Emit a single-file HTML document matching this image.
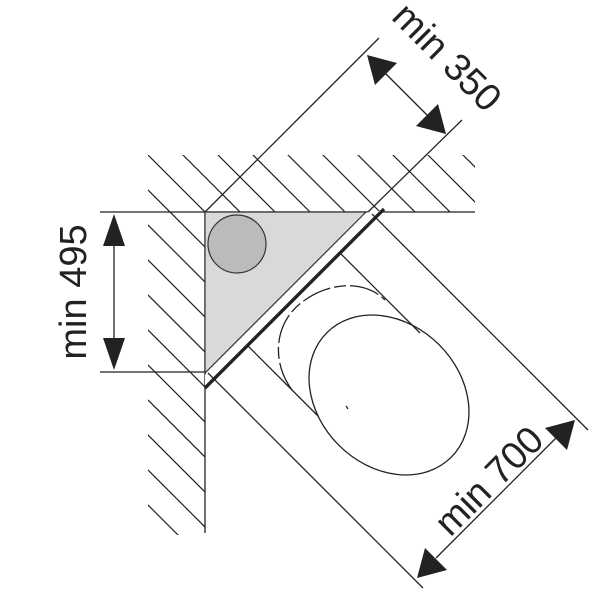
<!DOCTYPE html>
<html><head><style>html,body{margin:0;padding:0;background:#fff}svg{display:block}</style></head>
<body>
<svg width="600" height="600" viewBox="0 0 600 600" xmlns="http://www.w3.org/2000/svg">
<defs>
<clipPath id="hc"><path d="M148 155H475V212H205V535H148Z"/></clipPath>
</defs>
<g clip-path="url(#hc)" stroke="#222" stroke-width="1.2">
<line x1="-292" y1="100" x2="208" y2="600"/>
<line x1="-257" y1="100" x2="243" y2="600"/>
<line x1="-222" y1="100" x2="278" y2="600"/>
<line x1="-187" y1="100" x2="313" y2="600"/>
<line x1="-152" y1="100" x2="348" y2="600"/>
<line x1="-117" y1="100" x2="383" y2="600"/>
<line x1="-82" y1="100" x2="418" y2="600"/>
<line x1="-47" y1="100" x2="453" y2="600"/>
<line x1="-12" y1="100" x2="488" y2="600"/>
<line x1="23" y1="100" x2="523" y2="600"/>
<line x1="58" y1="100" x2="558" y2="600"/>
<line x1="93" y1="100" x2="593" y2="600"/>
<line x1="128" y1="100" x2="628" y2="600"/>
<line x1="163" y1="100" x2="663" y2="600"/>
<line x1="198" y1="100" x2="698" y2="600"/>
<line x1="233" y1="100" x2="733" y2="600"/>
<line x1="268" y1="100" x2="768" y2="600"/>
<line x1="303" y1="100" x2="803" y2="600"/>
<line x1="338" y1="100" x2="838" y2="600"/>
<line x1="373" y1="100" x2="873" y2="600"/>
<line x1="408" y1="100" x2="908" y2="600"/>
</g>
<g stroke="#222" fill="none" stroke-width="1.3">
<line x1="100" y1="212" x2="475" y2="212"/>
<line x1="100" y1="372" x2="205" y2="372"/>
<line x1="205" y1="212" x2="205" y2="533"/>
</g>
<polygon points="205,212 366,212 205,373" fill="#d9d9d9" stroke="#333" stroke-width="1.2"/>
<polygon points="369,211 380,211 205,386 205,375" fill="#fff"/>
<circle cx="237" cy="244" r="29" fill="#bbbbbb" stroke="#333" stroke-width="1.2"/>
<line x1="384" y1="209" x2="205" y2="388" stroke="#222" stroke-width="3.4"/>
<g stroke="#222" fill="none" stroke-width="1.3">
<line x1="372" y1="214" x2="588" y2="430"/>
<line x1="208" y1="373" x2="423" y2="588"/>
<line x1="340" y1="253" x2="420" y2="333"/>
<line x1="248" y1="346" x2="318" y2="416"/>
<ellipse cx="389" cy="395" rx="88" ry="71" transform="rotate(45 389 395)"/>
<path d="M292 390 C270 360 275 320 305 300 C330 282 365 280 385 300" stroke-dasharray="30 4 12 4"/>
<line x1="346" y1="406" x2="348" y2="409"/>
<line x1="205" y1="212" x2="379" y2="38"/>
<line x1="368" y1="212" x2="462" y2="120"/>
<line x1="114" y1="240" x2="114" y2="345"/>
<line x1="385" y1="73" x2="428" y2="116"/>
<line x1="436" y1="558" x2="556" y2="438"/>
</g>
<g fill="#222">
<polygon points="114,214 103,246 125,246"/>
<polygon points="114,370 103,338 125,338"/>
<polygon points="367,55 375,85 397,63"/>
<polygon points="446,134 416,126 438,104"/>
<polygon points="417,578 425,548 447,570"/>
<polygon points="575,420 545,428 567,450"/>
</g>
<g font-family="Liberation Sans, sans-serif" font-size="38" fill="#222" text-anchor="middle">
<text transform="translate(438,66) rotate(45)">min 350</text>
<text transform="translate(86,292) rotate(-90)">min 495</text>
<text transform="translate(498,490) rotate(-45)">min 700</text>
</g>
</svg>
</body></html>
